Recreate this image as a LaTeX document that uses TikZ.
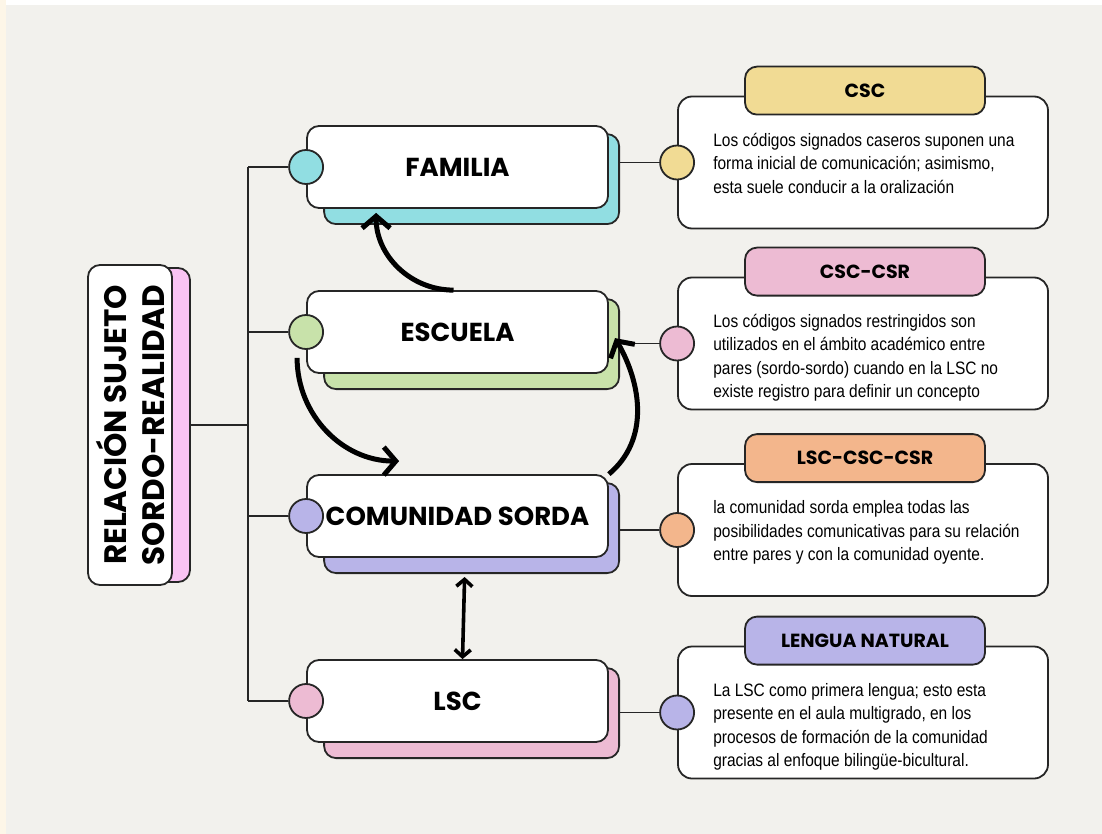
\documentclass[tikz,border=0pt]{standalone}
\usepackage{fontspec}
\setmainfont{Liberation Sans}
\newfontfamily\handfont{Poppins}
\newfontfamily\bodyfont{Liberation Sans}[FakeStretch=0.86]
\usetikzlibrary{arrows.meta,calc}

\definecolor{paper}{RGB}{242,241,237}
\definecolor{cream}{RGB}{253,246,232}
\definecolor{ink}{RGB}{38,38,38}
\definecolor{cfam}{RGB}{145,222,226}
\definecolor{cesc}{RGB}{200,226,170}
\definecolor{ccom}{RGB}{184,180,232}
\definecolor{clsc}{RGB}{237,187,211}
\definecolor{ctit}{RGB}{249,195,243}
\definecolor{ccsc}{RGB}{241,219,148}
\definecolor{corg}{RGB}{243,182,140}

\tikzset{
  mainbox/.style={draw=ink, line width=1.8pt, rounded corners=12pt, fill=white,
    minimum width=301pt, minimum height=82pt, inner sep=0pt,
    font=\handfont\bfseries\fontsize{26}{28}\selectfont},
  shadowbox/.style={draw=ink, line width=1.8pt, rounded corners=12pt,
    minimum width=295pt, minimum height=90pt},
  knob/.style={circle, draw=ink, line width=1.8pt, minimum size=34pt, inner sep=0pt},
  infobox/.style={draw=ink, line width=1.8pt, rounded corners=14pt, fill=white,
    minimum width=370pt, minimum height=132pt},
  infotab/.style={draw=ink, line width=1.8pt, rounded corners=12pt,
    minimum width=240pt, minimum height=48pt,
    font=\handfont\bfseries\fontsize{19}{20}\selectfont},
  link/.style={draw=ink, line width=1.7pt},
  bendarrow/.style={line width=5pt, -{Straight Barb[length=12pt,width=28pt]}},
  bothways/.style={line width=3.6pt, {Straight Barb[length=7pt,width=16pt]}-{Straight Barb[length=7pt,width=16pt]}}
}

\begin{document}
\begin{tikzpicture}[x=1pt,y=1pt]
\fill[paper] (0,0) rectangle (1102,-834);
\fill[white] (0,0) rectangle (1102,-5);
\fill[cream] (0,0) rectangle (6,-834);
\useasboundingbox (0,0) rectangle (1102,-834);

\node[shadowbox, fill=ctit, minimum width=40pt, minimum height=314pt] (tit-b) at (170,-425) {};
\node[mainbox, rotate=90, minimum width=320pt, minimum height=84pt, align=center,
  font=\handfont\bfseries\fontsize{31}{38}\selectfont] (tit) at (130,-425) {RELACIÓN SUJETO\\SORDO-REALIDAD};

\foreach \n/\y/\c/\t in {fam/167/cfam/FAMILIA,esc/332/cesc/ESCUELA,com/516/ccom/COMUNIDAD SORDA,lsc/701/clsc/LSC} {
\node[shadowbox, fill=\c, anchor=south east] (\n-b) at (620,-\y-58) {};
\node[mainbox] (\n) at (457.5,-\y) {\t};
\node[knob, fill=\c] (\n-k) at (\n.west) {};}

\foreach \n/\y/\c/\t/\d in {
  csc/162.5/ccsc/CSC/{Los códigos signados caseros suponen una\\forma inicial de comunicación; asimismo,\\esta suele conducir a la oralización},
  csr/343.5/clsc/CSC-CSR/{Los códigos signados restringidos son\\utilizados en el ámbito académico entre\\pares (sordo-sordo) cuando en la LSC no\\existe registro para definir un concepto},
  lcc/530/corg/LSC-CSC-CSR/{la comunidad sorda emplea todas las\\posibilidades comunicativas para su relación\\entre pares y con la comunidad oyente.},
  nat/712.5/ccom/LENGUA NATURAL/{La LSC como primera lengua; esto esta\\presente en el aula multigrado, en los\\procesos de formación de la comunidad\\gracias al enfoque bilingüe-bicultural.}} {
\node[infobox] (\n) at (863,-\y) {};
\node[infotab, fill=\c] (\n-t) at ($(\n.north)+(2,5)$) {\t};
\node[knob, fill=\c] (\n-k) at (\n.west) {};
\node[anchor=north west, inner sep=0pt, align=left,
  font=\bodyfont\fontsize{18}{23.5}\selectfont] (\n-x) at ($(\n.north west)+(36,-34)$) {\strut\d};}

\coordinate (trunk) at (248,0);
\draw[link] (fam-k.west -| trunk) -- (lsc-k.west -| trunk);
\foreach \n in {fam,esc,com,lsc}
  \draw[link] (\n-k.west -| trunk) -- (\n-k.west);
\draw[link] (tit-b.east) -- (tit-b.east -| trunk);
\foreach \n/\m in {fam/csc,esc/csr,com/lcc,lsc/nat}
  \draw[link] (\m-k.west) -- (\m-k.west -| \n-b.east);

\draw[bendarrow] ($(esc.north)+(-4,0)$) to[out=180,in=-90] ($(fam.south west)+(70,-4)$);
\draw[bendarrow] ($(esc-k.south)+(-9,-8)$) to[out=-90,in=180] ($(com.north west)+(93,13)$);
\draw[bendarrow] (com.north east) to[out=40,in=-60] ($(esc-b.east)+(-5,6)$);
\draw[bothways] ($(com-b.south)+(-7,-3)$) -- ($(lsc.north)+(5,0)$);
\end{tikzpicture}
\end{document}
